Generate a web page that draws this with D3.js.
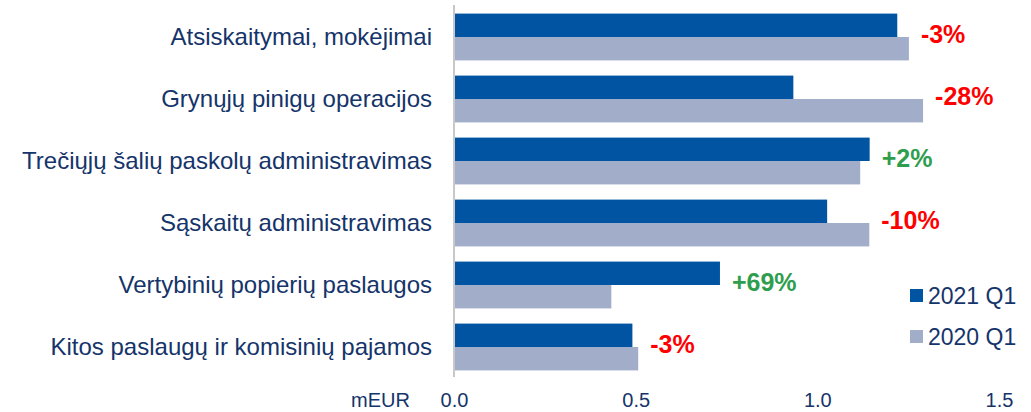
<!DOCTYPE html>
<html>
<head>
<meta charset="utf-8">
<script src="https://d3js.org/d3.v7.min.js"></script>
<style>
  body { margin: 0; background: #fff; }
  text { font-family: "Liberation Sans", Arial, sans-serif; }
</style>
</head>
<body>
<div id="chart"></div>
<script>
// categories, top to bottom
const categories = [
  "Atsiskaitymai, mokėjimai",
  "Grynųjų pinigų operacijos",
  "Trečiųjų šalių paskolų administravimas",
  "Sąskaitų administravimas",
  "Vertybinių popierių paslaugos",
  "Kitos paslaugų ir komisinių pajamos"
];
const seriesNames = ["2021 Q1", "2020 Q1"];
const values2021 = [1.22, 0.934, 1.144, 1.027, 0.732, 0.491];
const values2020 = [1.252, 1.291, 1.118, 1.143, 0.433, 0.507];
const changeLabels = ["-3%", "-28%", "+2%", "-10%", "+69%", "-3%"];
const tickValues = [0, 0.5, 1.0, 1.5];

const width = 1031, height = 412;
const colors = { "2021 Q1": "#0054a2", "2020 Q1": "#a2adca" };
const textColor = "#15346a";

const svg = d3.select("#chart").append("svg")
  .attr("width", width)
  .attr("height", height);

const x = d3.scaleLinear().domain([0, 1.5]).range([454, 999]);
const y = d3.scaleBand().domain(categories).range([6, 378])
  .paddingInner(0.245).paddingOuter(0.1225);
const ySub = d3.scaleBand().domain(seriesNames).range([0, y.bandwidth()]);

const rows = categories.map((c, i) => ({
  cat: c, v21: values2021[i], v20: values2020[i], label: changeLabels[i]
}));

// bars
const g = svg.append("g");
rows.forEach(r => {
  [["2021 Q1", r.v21], ["2020 Q1", r.v20]].forEach(([s, v]) => {
    g.append("rect")
      .attr("x", x(0))
      .attr("y", y(r.cat) + ySub(s))
      .attr("width", x(v) - x(0))
      .attr("height", ySub.bandwidth())
      .attr("fill", colors[s]);
  });
});

// vertical axis line
svg.append("line")
  .attr("x1", x(0)).attr("x2", x(0))
  .attr("y1", 5).attr("y2", 377)
  .attr("stroke", "#c8c8c8").attr("stroke-width", 2);

// category labels
svg.append("g").selectAll("text")
  .data(rows).enter().append("text")
  .attr("x", 432)
  .attr("y", d => y(d.cat) + y.bandwidth() / 2)
  .attr("dy", "0.35em")
  .attr("text-anchor", "end")
  .attr("font-size", 24)
  .attr("fill", textColor)
  .text(d => d.cat);

// change labels
svg.append("g").selectAll("text")
  .data(rows).enter().append("text")
  .attr("x", d => x(Math.max(d.v21, d.v20)) + 12)
  .attr("y", d => y(d.cat) + y.bandwidth() / 2 - 3)
  .attr("dy", "0.35em")
  .attr("font-size", 25)
  .attr("font-weight", "bold")
  .attr("fill", d => d.label.startsWith("+") ? "#2e9e4e" : "#ff0000")
  .text(d => d.label);

// x axis tick labels
const xAxis = d3.axisBottom(x)
  .tickValues(tickValues)
  .tickFormat(d3.format(".1f"))
  .tickSize(0)
  .tickPadding(0);
const ax = svg.append("g")
  .attr("transform", "translate(0,393)")
  .call(xAxis);
ax.select(".domain").remove();
ax.selectAll("text")
  .attr("font-size", 20)
  .attr("font-family", "Liberation Sans, Arial, sans-serif")
  .attr("fill", textColor);

svg.append("text")
  .attr("x", 410).attr("y", 393)
  .attr("dy", "0.71em")
  .attr("text-anchor", "end")
  .attr("font-size", 20)
  .attr("fill", textColor)
  .text("mEUR");

// legend
const legend = svg.append("g").selectAll("g")
  .data(seriesNames).enter().append("g")
  .attr("transform", (d, i) => `translate(910,${289 + i * 41})`);
legend.append("rect")
  .attr("width", 13).attr("height", 13)
  .attr("fill", d => colors[d]);
legend.append("text")
  .attr("x", 18).attr("y", 7)
  .attr("dy", "0.35em")
  .attr("font-size", 23)
  .attr("fill", textColor)
  .text(d => d);
</script>
</body>
</html>
